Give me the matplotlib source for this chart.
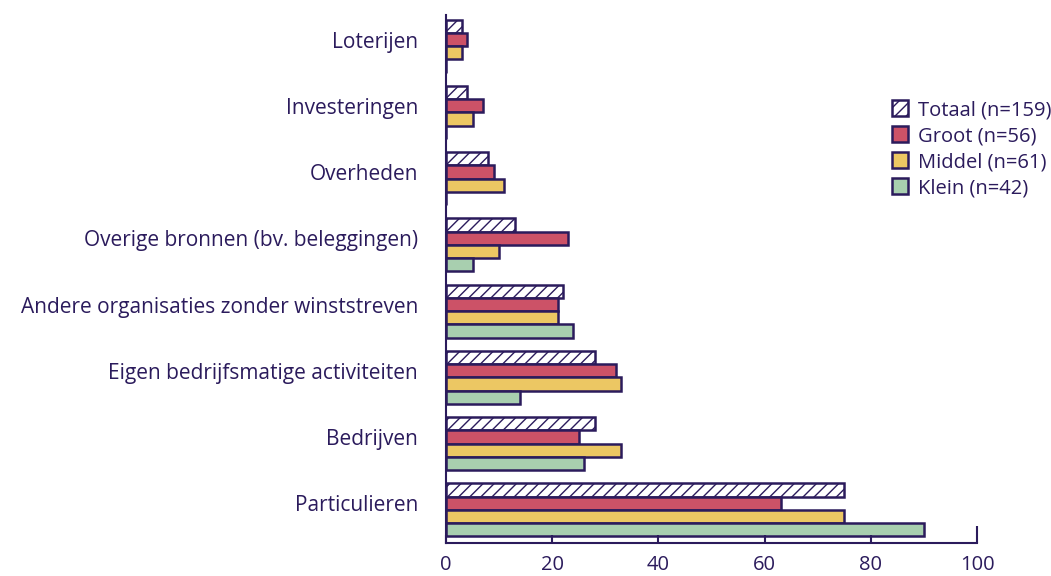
import numpy as np
import matplotlib.pyplot as plt

plt.rcParams['font.family'] = ['Open Sans', 'DejaVu Sans']

categories = ['Particulieren', 'Bedrijven', 'Eigen bedrijfsmatige activiteiten',
              'Andere organisaties zonder winststreven', 'Overige bronnen (bv. beleggingen)',
              'Overheden', 'Investeringen', 'Loterijen']
totaal = [75, 28, 28, 22, 13, 8, 4, 3]
groot = [63, 25, 32, 21, 23, 9, 7, 4]
middel = [75, 33, 33, 21, 10, 11, 5, 3]
klein = [90, 26, 14, 24, 5, 0, 0, 0]
series_labels = ['Totaal (n=159)', 'Groot (n=56)', 'Middel (n=61)', 'Klein (n=42)']

ink = '#2b1b5c'
plt.rcParams['hatch.linewidth'] = 1.0

fig = plt.figure(figsize=(10.51, 5.76), dpi=100)
ax = fig.add_axes([446/1051, 33/576, 531/1051, 528/576])

y = np.arange(len(categories))
h = 0.2
ax.barh(y + 0.3, totaal, height=h, color='white', edgecolor=ink, hatch='///', linewidth=1.8, label=series_labels[0])
ax.barh(y + 0.1, groot, height=h, color='#cc5267', edgecolor=ink, linewidth=1.8, label=series_labels[1])
ax.barh(y - 0.1, middel, height=h, color='#ecc763', edgecolor=ink, linewidth=1.8, label=series_labels[2])
ax.barh(y - 0.3, klein, height=h, color='#a8cfaf', edgecolor=ink, linewidth=1.8, label=series_labels[3])

ax.set_xlim(0, 100)
ax.set_ylim(-0.5, 7.47)
ax.set_yticks(y + 0.1)
ax.set_yticklabels(categories, fontsize=15, color=ink)
ax.tick_params(axis='y', length=0, pad=20)
ax.set_xticks([0, 20, 40, 60, 80, 100])
ax.tick_params(axis='x', direction='in', length=6, width=1.5, color=ink, labelcolor=ink,
               labelsize=14.5, pad=9)
ax.xaxis.get_major_ticks()[-1].tick1line.set_markersize(12)

for s in ['top', 'right']:
    ax.spines[s].set_visible(False)
for s in ['left', 'bottom']:
    ax.spines[s].set_color(ink)
    ax.spines[s].set_linewidth(1.5)

fig.legend(loc='upper left', bbox_to_anchor=(884/1051, 1 - 92/576), frameon=False,
           fontsize=14.5, labelcolor=ink, handlelength=0.8, handleheight=0.8,
           handletextpad=0.5, labelspacing=0.3, borderaxespad=0)

fig.savefig('out.png', dpi=100)
